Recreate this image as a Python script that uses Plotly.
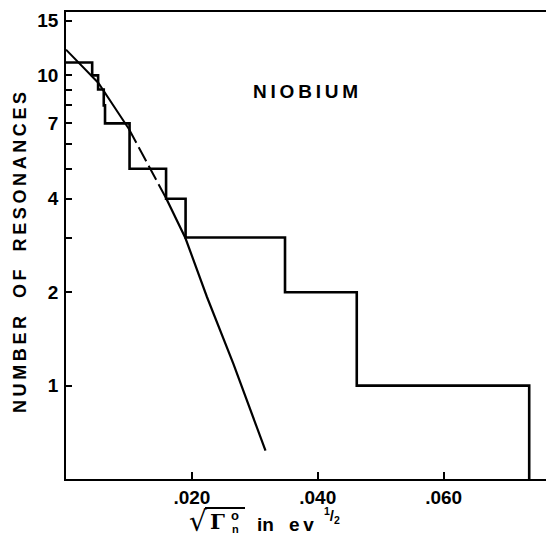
import plotly.graph_objects as go

# Histogram (integral count) steps: left edge of each level, level value
step_x = [0.0, 0.00416, 0.0051, 0.0060, 0.0062, 0.0101, 0.0159, 0.0190, 0.0348, 0.0462, 0.0736]
step_y = [11, 10, 9, 8, 7, 5, 4, 3, 2, 1, 0.5]

# Fitted curve
curve_x = [0.0, 0.00515, 0.00997, 0.0130, 0.01595, 0.01897, 0.0224, 0.0266, 0.0317]
curve_y = [12.1, 9.45, 6.73, 5.17, 4.0, 2.99, 1.93, 1.175, 0.617]

x_tickvals = [0.02, 0.04, 0.06]
x_ticktext = [".020", ".040", ".060"]
y_tickvals = [1, 2, 3, 4, 5, 6, 7, 8, 9, 10, 15]
y_ticktext = ["1", "2", "", "4", "", "", "7", "", "", "10", "15"]

FONT = "Liberation Sans"
L, T, B, W, H = 66, 12, 58, 546, 537
PW, PH = W - L, H - T - B


def px(xp):
    return (xp - L) / PW


def py(yp):
    return (H - B - yp) / PH


fig = go.Figure()

fig.add_trace(go.Scatter(x=step_x, y=step_y, mode="lines", line=dict(color="black", width=2.6, shape="hv"),
                         showlegend=False, hoverinfo="skip"))
# curve: solid, dashed middle, solid
fig.add_trace(go.Scatter(x=curve_x[:3], y=curve_y[:3], mode="lines", line=dict(color="black", width=2),
                         showlegend=False, hoverinfo="skip"))
fig.add_trace(go.Scatter(x=curve_x[2:5], y=curve_y[2:5], mode="lines",
                         line=dict(color="black", width=2, dash="16px,5px"), showlegend=False, hoverinfo="skip"))
fig.add_trace(go.Scatter(x=curve_x[4:], y=curve_y[4:], mode="lines", line=dict(color="black", width=2.2),
                         showlegend=False, hoverinfo="skip"))

fig.update_layout(
    width=W, height=H,
    margin=dict(l=L, r=0, t=T, b=B, autoexpand=False),
    paper_bgcolor="white", plot_bgcolor="white",
    font=dict(family=FONT, color="black", size=18, weight="bold"),
    xaxis=dict(range=[0, 0.07627], tickvals=x_tickvals, ticktext=x_ticktext,
               ticks="inside", ticklen=7, tickwidth=1.5, tickcolor="black",
               showline=True, linecolor="black", linewidth=1.5, mirror=True,
               showgrid=False, zeroline=False, automargin=False,
               tickfont=dict(family=FONT, size=19, weight="bold")),
    yaxis=dict(type="log", range=[-0.30103, 1.20412], tickvals=y_tickvals, ticktext=y_ticktext,
               ticks="inside", ticklen=6, tickwidth=1.5, tickcolor="black",
               showline=True, linecolor="black", linewidth=1.5, mirror=False,
               showgrid=False, zeroline=False, ticklabelstandoff=2, automargin=False,
               tickfont=dict(family=FONT, size=19, weight="bold")),
)


def ann(text, x, y, size, family=FONT, weight="bold", angle=0):
    fig.add_annotation(text=text, xref="paper", yref="paper", x=px(x), y=py(y), textangle=angle,
                       showarrow=False, xanchor="center", yanchor="middle",
                       font=dict(family=family, size=size, weight=weight))


ann("N\u2009I\u2009O\u2009B\u2009I\u2009U\u2009M", 305, 92, 19)
ann("N\u2009U\u2009M\u2009B\u2009E\u2009R\u2003O\u2009F\u2003R\u2009E\u2009S\u2009O\u2009N\u2009A\u2009N\u2009C\u2009E\u2009S",
    20, 253, 18, angle=-90)

# x-axis title: sqrt(Gamma_n^o) in ev^1/2
ann("√", 198, 521, 28, family="DejaVu Sans", weight="normal")
ann("Γ", 217, 521, 21, family="DejaVu Serif")
ann("o", 235, 515, 13)
ann("n", 235, 529, 11)
ann("in", 265, 524, 19)
ann("e\u2009v", 301, 524, 19)
ann("<sup>1</sup>/<sub>2</sub>", 332, 515, 15)
fig.add_shape(type="line", xref="paper", yref="paper", x0=px(205), x1=px(245), y0=py(508), y1=py(508),
              line=dict(color="black", width=2))

fig.write_html("out.html", config={"responsive": False, "displayModeBar": False},
               post_script="document.body.style.margin='0';document.body.style.overflow='hidden';")
